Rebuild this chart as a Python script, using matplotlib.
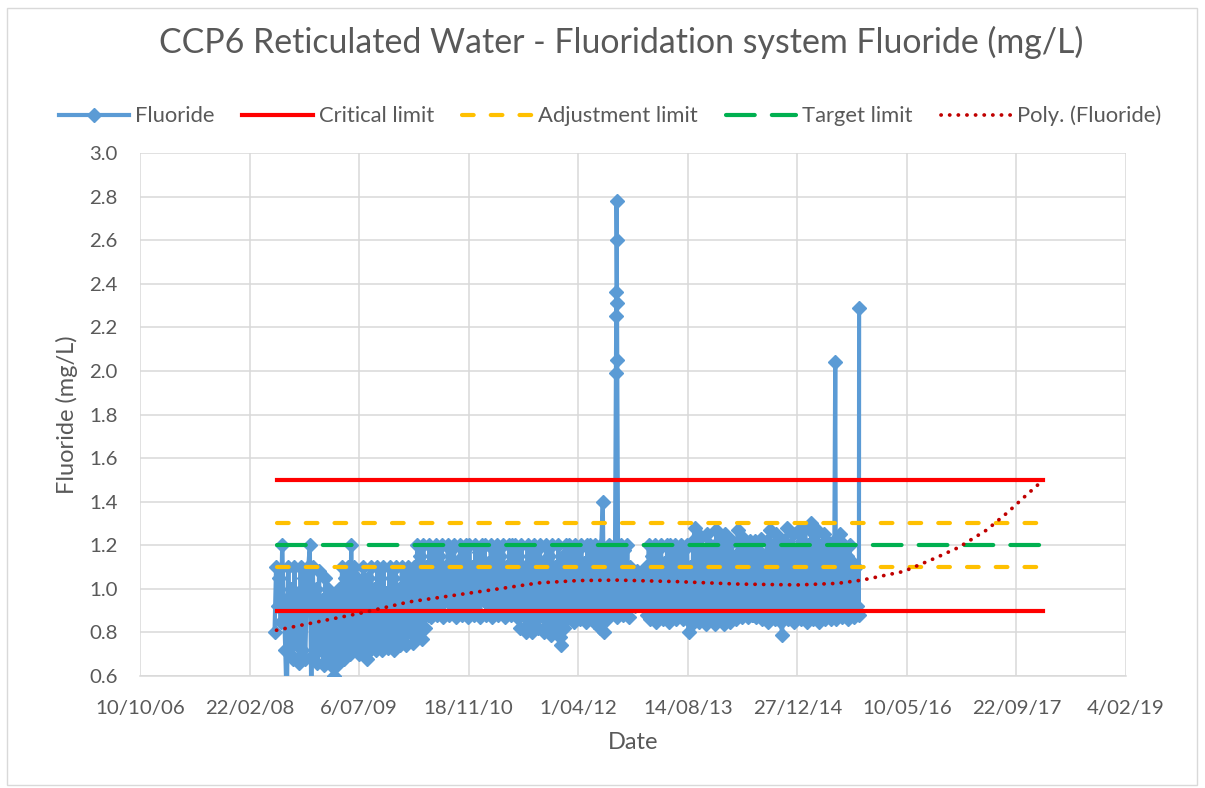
import numpy as np
import pandas as pd
import matplotlib
matplotlib.use('Agg')
import matplotlib.pyplot as plt
from matplotlib.patches import Rectangle

plt.rcParams['font.family'] = ['Lato', 'DejaVu Sans']

# weekly fluoride readings (mg/L), first one on 15 Jun 2008
first_reading = '2008-06-15'
fluoride_y1 = [0.80, 1.10, 0.92, 1.05, 0.85, 1.20, 0.95, 0.72, 0.45, 1.10,
               0.70, 1.00, 0.68, 1.10, 0.75, 0.98, 0.66, 1.10, 0.72, 1.05,
               0.68, 0.95, 1.10, 1.20, 0.45, 1.10, 0.70, 1.00, 0.66, 1.08,
               0.72, 0.95, 0.65, 1.05, 0.70, 1.00, 0.66, 0.98, 0.64, 0.60,
               0.95, 0.65, 1.00, 0.70, 1.10, 0.68, 1.05, 0.72, 1.10, 0.70,
               1.20, 0.75]
fluoride_y2 = [1.10, 0.72, 1.05, 0.70, 1.00, 0.75, 1.10, 0.70, 0.68, 1.05,
               0.72, 1.10, 0.74, 1.00, 0.72, 1.10, 0.78, 1.05, 0.72, 1.10,
               0.75, 0.98, 0.73, 1.10, 0.76, 1.05, 0.72, 1.10, 0.78, 1.00,
               0.74, 1.10, 0.76, 1.05, 0.74, 1.10, 0.80, 1.08, 0.75, 1.10,
               0.78, 1.20, 0.80, 1.15, 0.77, 1.20, 0.82, 1.10, 0.88, 1.20,
               0.87, 1.15]
fluoride_y3 = [0.90, 1.20, 0.88, 1.15, 0.92, 1.20, 0.87, 1.10, 0.95, 1.20,
               0.88, 1.18, 0.90, 1.20, 0.87, 1.12, 0.93, 1.20, 0.88, 1.15,
               0.90, 1.20, 0.87, 1.20, 0.92, 1.10, 0.88, 1.20, 0.90, 1.17,
               0.87, 1.20, 0.95, 1.20, 0.88, 1.12, 0.90, 1.20, 0.87, 1.18,
               0.92, 1.20, 0.88, 1.15, 0.90, 1.20, 0.87, 1.10, 0.93, 1.20,
               0.88, 1.20]
fluoride_y4 = [0.90, 1.20, 0.87, 1.15, 0.82, 1.20, 0.88, 1.10, 0.80, 1.20,
               0.84, 1.15, 0.80, 1.20, 0.86, 1.18, 0.82, 1.20, 0.88, 1.12,
               0.80, 1.20, 0.85, 1.15, 0.79, 1.20, 0.84, 1.10, 0.80, 1.20,
               0.78, 0.74, 1.15, 0.82, 1.20, 0.86, 1.20, 0.88, 1.15, 0.85,
               1.20, 0.90, 1.18, 0.86, 1.20, 0.88, 1.12, 0.85, 1.20, 0.90,
               1.20, 0.87]
fluoride_y5 = [0.85, 1.20, 0.88, 1.15, 0.82, 1.20, 1.40, 0.80, 1.18, 0.86,
               1.20, 0.88, 1.15, 0.90, 1.20, 0.87, 1.12, 0.92, 1.20, 0.88,
               1.18, 0.90, 1.20, 0.87, 1.10, 0.95, 1.05, 0.92, 1.08, 0.95,
               1.02, 0.93, 1.06, 0.92, 1.10, 0.88, 1.20, 0.86, 1.15, 0.90,
               1.20, 0.85, 1.18, 0.88, 1.20, 0.86, 1.12, 0.90, 1.20, 0.85,
               1.20, 0.88]
fluoride_y6 = [0.88, 1.20, 0.86, 1.15, 0.90, 1.20, 0.86, 1.18, 0.88, 1.20,
               0.80, 1.10, 0.84, 1.22, 1.28, 0.88, 1.20, 0.85, 1.24, 0.90,
               1.18, 0.84, 1.25, 0.88, 1.20, 0.86, 1.15, 0.84, 1.27, 0.90,
               1.22, 0.86, 1.18, 0.84, 1.25, 0.88, 1.20, 0.85, 1.22, 0.90,
               1.15, 0.86, 1.27, 0.88, 1.20, 0.87, 1.23, 0.90, 1.18, 0.87,
               1.22, 0.88]
fluoride_y7 = [0.88, 1.22, 0.87, 1.18, 0.90, 1.23, 0.86, 1.15, 0.88, 1.22,
               0.85, 1.27, 0.88, 1.20, 0.86, 1.25, 0.90, 1.18, 0.85, 0.79,
               1.22, 0.87, 1.28, 0.86, 1.20, 0.90, 1.25, 0.85, 1.18, 0.87,
               1.27, 0.86, 1.22, 0.88, 1.28, 0.85, 1.20, 0.87, 1.30, 0.86,
               1.25, 0.88, 1.27, 0.85, 1.20, 0.87, 1.25, 0.86, 1.22, 0.88,
               1.18, 0.86]
fluoride_y8 = [0.88, 1.22, 0.86, 1.18, 0.90, 1.25, 0.87, 1.20, 0.88, 1.15,
               0.86, 1.20, 0.90, 1.12, 0.87, 1.10, 0.92, 0.88]

# short high readings between the weekly ones
spike_dates = ['2012-09-20', '2012-09-21', '2012-09-22', '2012-09-23',
               '2012-09-24', '2012-09-25', '2012-09-26', '2015-06-18',
               '2015-10-05']
spike_values = [1.99, 2.25, 2.36, 2.78, 2.60, 2.31, 2.05, 2.04, 2.29]

limit_dates = ['2008-06-24', '2018-01-23']
critical_low, critical_high = 0.9, 1.5
adjust_low, adjust_high = 1.1, 1.3
target = 1.2

# Excel polynomial trendline
trend_dates = ['2008-06-24', '2009-01-05', '2009-07-20', '2010-02-18',
               '2010-09-11', '2011-04-04', '2011-10-02', '2012-04-01',
               '2012-09-30', '2013-06-29', '2014-03-28', '2014-12-27',
               '2015-06-27', '2015-10-18', '2016-04-26', '2016-09-14',
               '2017-01-01', '2017-05-09', '2017-08-12', '2017-11-06',
               '2018-01-23']
trend_values = [0.81, 0.85, 0.89, 0.94, 0.97, 1.00, 1.027, 1.038, 1.04,
                1.033, 1.022, 1.018, 1.025, 1.04, 1.08, 1.14, 1.19, 1.27,
                1.35, 1.43, 1.50]

tick_labels = ['10/10/06', '22/02/08', '6/07/09', '18/11/10', '1/04/12',
               '14/08/13', '27/12/14', '10/05/16', '22/09/17', '4/02/19']

weekly = (fluoride_y1 + fluoride_y2 + fluoride_y3 + fluoride_y4 +
          fluoride_y5 + fluoride_y6 + fluoride_y7 + fluoride_y8)
base = pd.Series(weekly, index=pd.date_range(first_reading, periods=len(weekly), freq='7D'))
spikes = pd.Series(spike_values, index=pd.to_datetime(spike_dates))
fluoride = pd.concat([base, spikes]).sort_index(kind='stable')

lim_x = pd.to_datetime(limit_dates)
tick_pos = pd.to_datetime(tick_labels, format='%d/%m/%y')

txt = '#595959'
W, H = 1205, 788
fig = plt.figure(figsize=(W / 100, H / 100), dpi=100)
ax = fig.add_axes([140 / W, 1 - 676 / H, (1126 - 140) / W, (676 - 153) / H])

ax.plot(fluoride.index, fluoride.values, color='#5b9bd5', lw=3, marker='D',
        ms=7, label='Fluoride', zorder=3)
ax.plot(lim_x, [critical_high] * 2, color='#ff0000', lw=3, label='Critical limit', zorder=4)
ax.plot(lim_x, [critical_low] * 2, color='#ff0000', lw=3, zorder=4)
ax.plot(lim_x, [adjust_high] * 2, color='#ffc000', lw=3, ls=(0, (2.8, 4.1)),
        dash_capstyle='round', label='Adjustment limit', zorder=4)
ax.plot(lim_x, [adjust_low] * 2, color='#ffc000', lw=3, ls=(0, (2.8, 4.1)),
        dash_capstyle='round', zorder=4)
ax.plot(lim_x, [target] * 2, color='#00b050', lw=3, ls=(0, (6.9, 4.1)),
        dash_capstyle='round', label='Target limit', zorder=4)
ax.plot(pd.to_datetime(trend_dates), trend_values, color='#c00000', lw=2.7,
        ls=(0, (0.05, 2.25)), dash_capstyle='round', label='Poly. (Fluoride)', zorder=5)

ax.set_xlim(tick_pos[0], tick_pos[-1])
ax.set_ylim(0.6, 3.0)
ax.set_xticks(tick_pos)
ax.set_xticklabels(tick_labels)
ax.set_yticks(np.arange(0.6, 3.01, 0.2))
ax.set_yticklabels(['%.1f' % v for v in np.arange(0.6, 3.01, 0.2)])
ax.grid(True, color='#d9d9d9', lw=1.1)
ax.set_axisbelow(True)
for s in ax.spines.values():
    s.set_visible(False)
ax.spines['bottom'].set_visible(True)
ax.spines['bottom'].set_color('#d9d9d9')
ax.spines['bottom'].set_linewidth(1.1)
ax.tick_params(length=0, labelsize=14.7, labelcolor=txt)
ax.tick_params(axis='x', pad=17)
ax.tick_params(axis='y', pad=16)
ax.set_xlabel('Date', fontsize=17, color=txt, labelpad=11)
ax.set_ylabel('Fluoride (mg/L)', fontsize=17, color=txt, labelpad=8)

fig.text(621 / W, 1 - 42 / H, 'CCP6 Reticulated Water - Fluoridation system Fluoride (mg/L)',
         ha='center', va='center', fontsize=24.4, color=txt)

fig.legend(loc='center', bbox_to_anchor=(610 / W, 1 - 116 / H), ncol=5, frameon=False,
           fontsize=15.8, labelcolor=txt, handlelength=3.2, handletextpad=0.28,
           columnspacing=1.27)

fig.patches.append(Rectangle((7 / W, 3 / H), 1190 / W, 777 / H, transform=fig.transFigure,
                             fill=False, edgecolor='#d9d9d9', lw=1))

fig.savefig('out.png', dpi=100)
